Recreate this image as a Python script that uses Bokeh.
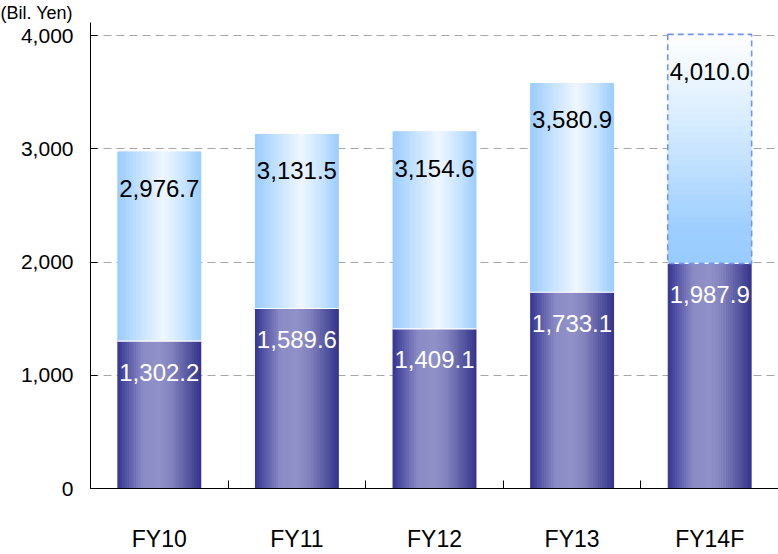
from bokeh.plotting import figure
from bokeh.models import ColumnDataSource, FixedTicker, Range1d
from bokeh.core.properties import value
from bokeh.embed import file_html
from bokeh.resources import INLINE

# ---- data ----
categories = ["FY10", "FY11", "FY12", "FY13", "FY14F"]
lower_values = [1302.2, 1589.6, 1409.1, 1733.1, 1987.9]
total_values = [2976.7, 3131.5, 3154.6, 3580.9, 4010.0]
forecast = [False, False, False, False, True]
y_ticks = [0, 1000, 2000, 3000, 4000]
unit_label = "(Bil. Yen)"

FONT = "Liberation Sans"
BAR_W = 0.61
N = 36
Y_TOP = 4115


def hex2rgb(h):
    h = h.lstrip("#")
    return tuple(int(h[i:i + 2], 16) for i in (0, 2, 4))


def grad(stops, t):
    for (t0, c0), (t1, c1) in zip(stops[:-1], stops[1:]):
        if t <= t1:
            f = 0 if t1 == t0 else (t - t0) / (t1 - t0)
            a, b = hex2rgb(c0), hex2rgb(c1)
            return "#%02x%02x%02x" % tuple(int(round(a[i] + (b[i] - a[i]) * f)) for i in range(3))
    return stops[-1][1]


lower_stops = [(0, "#343492"), (0.12, "#5858a8"), (0.3, "#8a8ac5"), (0.5, "#9191c9"),
               (0.66, "#8080bc"), (0.86, "#53539e"), (1, "#33338f")]
upper_stops = [(0, "#99ccff"), (0.25, "#c2e1ff"), (0.55, "#eff7ff"), (0.8, "#c6e3ff"), (1, "#99ccff")]
fc_stops = [(0, "#99ccff"), (0.15, "#9dceff"), (0.6, "#d6ebff"), (1, "#ffffff")]

p = figure(width=778, height=554, output_backend="svg", toolbar_location=None,
           x_range=Range1d(-0.5, 4.5), y_range=Range1d(0, Y_TOP),
           min_border_left=90, min_border_bottom=65, min_border_top=0, min_border_right=0,
           title=unit_label)
p.title.align = "left"
p.title.offset = -90
p.title.standoff = 0
p.title.text_font = FONT
p.title.text_font_size = "18px"
p.title.text_font_style = "normal"
p.title.text_color = "black"

p.outline_line_color = None
p.background_fill_color = "white"
p.xgrid.grid_line_color = None
p.ygrid.ticker = FixedTicker(ticks=[1000, 2000, 3000, 4000])
p.ygrid.grid_line_color = "#a6a6a6"
p.ygrid.grid_line_dash = "8 5"
p.ygrid.grid_line_width = 1

ls = dict(left=[], right=[], bottom=[], top=[], color=[])
us = dict(left=[], right=[], bottom=[], top=[], color=[])
for i, (lo, tot, fc) in enumerate(zip(lower_values, total_values, forecast)):
    x0 = i - BAR_W / 2
    dw = BAR_W / N
    for k in range(N):
        t = (k + 0.5) / N
        l = x0 + k * dw
        r = x0 + (k + 1) * dw + (dw * 0.6 if k < N - 1 else 0)
        ls["left"].append(l); ls["right"].append(r)
        ls["bottom"].append(0); ls["top"].append(lo)
        ls["color"].append(grad(lower_stops, t))
        if not fc:
            us["left"].append(l); us["right"].append(r)
            us["bottom"].append(lo); us["top"].append(tot)
            us["color"].append(grad(upper_stops, t))
    if fc:
        M = 40
        dh = (tot - lo) / M
        for k in range(M):
            t = (k + 0.5) / M
            us["left"].append(x0); us["right"].append(x0 + BAR_W)
            us["bottom"].append(lo + k * dh)
            us["top"].append(lo + (k + 1) * dh + (dh * 0.6 if k < M - 1 else 0))
            us["color"].append(grad(fc_stops, t))

p.quad(left="left", right="right", bottom="bottom", top="top", color="color",
       line_color=None, source=ColumnDataSource(ls))
p.quad(left="left", right="right", bottom="bottom", top="top", color="color",
       line_color=None, source=ColumnDataSource(us))

idx = list(range(len(categories)))
sep = ColumnDataSource(dict(x0=[i - BAR_W / 2 for i in idx], x1=[i + BAR_W / 2 for i in idx], y=lower_values))
p.segment(x0="x0", y0="y", x1="x1", y1="y", source=sep, line_color="white", line_width=1.2)

fc_idx = [i for i, f in enumerate(forecast) if f]
fsrc = ColumnDataSource(dict(
    left=[i - BAR_W / 2 for i in fc_idx], right=[i + BAR_W / 2 for i in fc_idx],
    bottom=[lower_values[i] for i in fc_idx], top=[total_values[i] for i in fc_idx]))
p.quad(left="left", right="right", bottom="bottom", top="top", source=fsrc,
       fill_color=None, line_color="#7094ff", line_width=1.6, line_dash="6 4")

tsrc = ColumnDataSource(dict(x=idx, y=total_values, t=[f"{v:,.1f}" for v in total_values]))
p.text(x="x", y="y", text="t", source=tsrc, text_align="center", text_baseline="middle",
       y_offset=37, text_font=value(FONT), text_font_size="24px", text_color="black")
lsrc = ColumnDataSource(dict(x=idx, y=lower_values, t=[f"{v:,.1f}" for v in lower_values]))
p.text(x="x", y="y", text="t", source=lsrc, text_align="center", text_baseline="middle",
       y_offset=31, text_font=value(FONT), text_font_size="24px", text_color="white")

ya = p.yaxis[0]
ya.ticker = FixedTicker(ticks=y_ticks)
ya.major_label_overrides = {t: f"{t:,}" for t in y_ticks}
ya.major_tick_in = 7
ya.major_tick_out = 0
ya.minor_tick_in = 0
ya.minor_tick_out = 0
ya.major_label_standoff = 17
ya.major_label_text_font = FONT
ya.major_label_text_font_size = "21px"
ya.major_label_text_color = "black"
ya.axis_line_color = "black"
ya.major_tick_line_color = "black"

xa = p.xaxis[0]
xa.ticker = FixedTicker(ticks=idx, minor_ticks=[i + 0.5 for i in idx])
xa.major_label_overrides = {i: c for i, c in enumerate(categories)}
xa.major_tick_in = 0
xa.major_tick_out = 0
xa.minor_tick_in = 8
xa.minor_tick_out = 0
xa.minor_tick_line_color = "black"
xa.major_label_standoff = 37
xa.major_label_text_font = FONT
xa.major_label_text_font_size = "23px"
xa.major_label_text_color = "black"
xa.axis_line_color = "black"

open("out.html", "w").write(file_html(p, INLINE))
